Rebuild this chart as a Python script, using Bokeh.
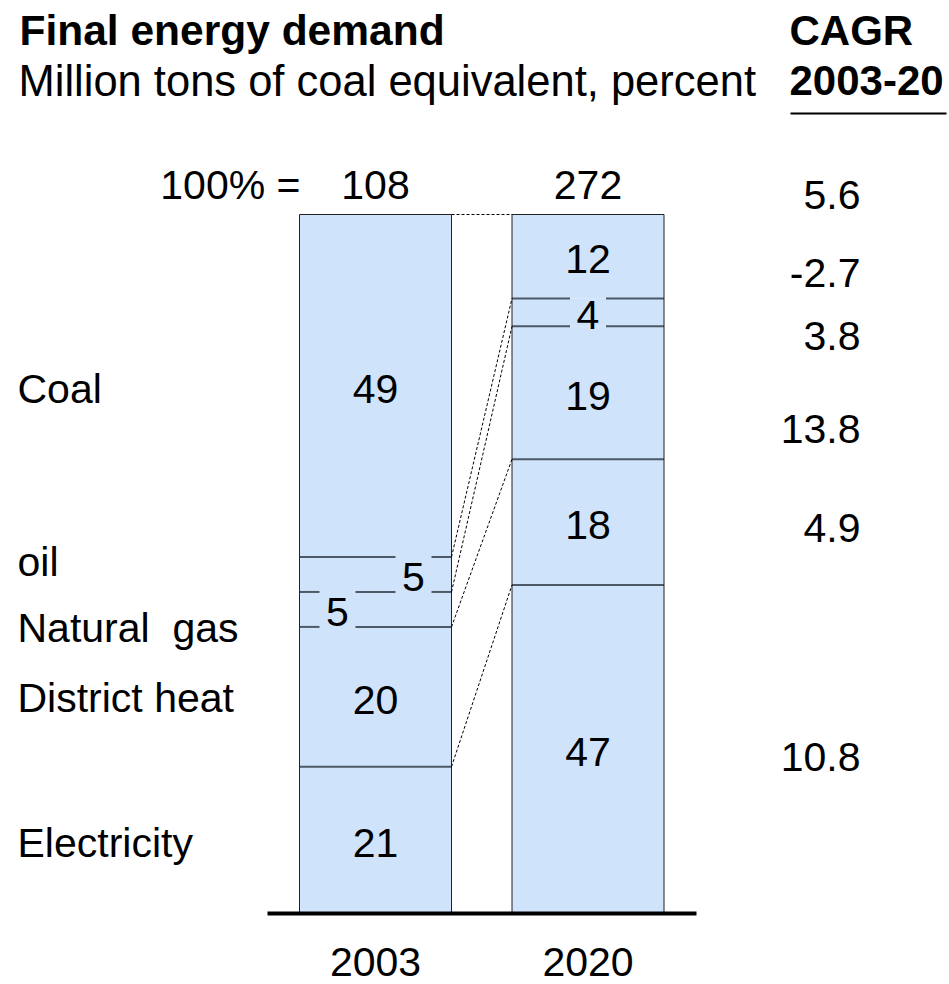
from bokeh.plotting import figure
from bokeh.models import Range1d
from bokeh.embed import file_html
from bokeh.resources import INLINE
from bokeh.core.properties import value

# ---- data -------------------------------------------------------------
categories = ["Electricity", "District heat", "Natural\u00a0 gas", "oil", "Coal"]  # bottom -> top
years = ["2003", "2020"]
share_2003 = [21, 20, 5, 5, 49]
share_2020 = [47, 18, 19, 4, 12]
totals = [108, 272]
cagr_total = 5.6
cagr = [10.8, 4.9, 13.8, 3.8, -2.7]  # same order as categories

# ---- layout -----------------------------------------------------------
W, H = 949, 984
BASE_PX, TOP_PX = 913, 214          # screen rows of 0 % and 100 %
SCALE = (BASE_PX - TOP_PX) / 100.0  # pixels per percent


def ydata(px):
    """Screen row -> percent units of the y range."""
    return (BASE_PX - px) / SCALE


FONT = value("Liberation Sans")
FS = "41px"
FILL = "#cfe3fa"
SEP = "#4d5966"
bar_x = [375, 587.5]
bar_w = 152
label_dx = {(0, 3): 38, (0, 2): -38, (1, 3): 0}  # offsets of labels in thin segments
GAP = 18

p = figure(width=W, height=H, output_backend="svg", toolbar_location=None,
           x_range=Range1d(0, W), y_range=Range1d(ydata(H), ydata(0)),
           x_axis_location=None, y_axis_location=None, min_border=0)
p.outline_line_color = None
p.xgrid.visible = False
p.ygrid.visible = False
p.background_fill_color = "white"
p.border_fill_color = "white"

shares = [share_2003, share_2020]
cums = []
for b, s in enumerate(shares):
    bottoms, tops, acc = [], [], 0
    for v in s:
        bottoms.append(acc)
        acc += v
        tops.append(acc)
    cums.append((bottoms, tops))
    cx = bar_x[b]
    left, right = cx - bar_w / 2, cx + bar_w / 2
    p.quad(left=[left] * len(s), right=[right] * len(s), bottom=bottoms, top=tops,
           fill_color=FILL, line_color=None)

    # separators between segments, broken around labels of thin segments
    for i in range(1, len(s)):
        gaps = []
        for j in (i - 1, i):
            if (b, j) in label_dx:
                gx = cx + label_dx[(b, j)]
                gaps.append((gx - GAP, gx + GAP))
        gaps.sort()
        pieces, start = [], left
        for g0, g1 in gaps:
            if g0 > start:
                pieces.append((start, g0))
            start = max(start, g1)
        pieces.append((start, right))
        p.segment(x0=[a for a, _ in pieces], x1=[c for _, c in pieces],
                  y0=[bottoms[i]] * len(pieces), y1=[bottoms[i]] * len(pieces),
                  line_color=SEP, line_width=2)

    # bar outline
    p.line(x=[left, left, right, right], y=[0, acc, acc, 0], line_color="#222222", line_width=1)

    # segment values
    lx = [cx + label_dx.get((b, j), 0) for j in range(len(s))]
    ly = [(bottoms[j] + tops[j]) / 2 for j in range(len(s))]
    p.text(x=lx, y=ly, text=[str(v) for v in s], text_font=FONT, text_font_size=FS,
           text_align="center", text_baseline="middle", text_color="black", y_offset=3)

# dashed connectors between matching boundaries
b03 = cums[0][1]
b20 = cums[1][1]
x_l = bar_x[0] + bar_w / 2
x_r = bar_x[1] - bar_w / 2
p.segment(x0=[x_l] * len(b03), x1=[x_r] * len(b20), y0=b03, y1=b20,
          line_color="black", line_width=1, line_dash="3 2")

# base line
p.segment(x0=[267], x1=[696], y0=[0], y1=[0], line_color="black", line_width=4)

# category labels
cat_centers = [(a + c) / 2 for a, c in zip(*cums[0])]
cat_dy = [3, 1, 19, -12, 3]
for name, yc, dy in zip(categories, cat_centers, cat_dy):
    p.text(x=[17], y=[yc], text=[name], text_font=FONT, text_font_size=FS,
           text_align="left", text_baseline="middle", text_color="black", y_offset=dy)

# totals row
p.text(x=[300], y=[ydata(184)], text=["100% ="], text_font=FONT, text_font_size=FS,
       text_align="right", text_baseline="middle", text_color="black")
p.text(x=bar_x, y=[ydata(184)] * 2, text=[str(t) for t in totals], text_font=FONT,
       text_font_size=FS, text_align="center", text_baseline="middle", text_color="black")

# years
p.text(x=bar_x, y=[ydata(961)] * 2, text=years, text_font=FONT, text_font_size=FS,
       text_align="center", text_baseline="middle", text_color="black")

# CAGR column
cagr_rows = [756, 527, 428, 335, 272]
p.text(x=[860], y=[ydata(194)], text=[f"{cagr_total:.1f}"], text_font=FONT,
       text_font_size=FS, text_align="right", text_baseline="middle", text_color="black")
p.text(x=[860] * len(cagr), y=[ydata(r) for r in cagr_rows], text=[f"{c:.1f}" for c in cagr],
       text_font=FONT, text_font_size=FS, text_align="right", text_baseline="middle",
       text_color="black")

# headings
p.text(x=[19], y=[ydata(30)], text=["Final energy demand"], text_font=FONT,
       text_font_size="42.5px", text_font_style="bold", text_align="left",
       text_baseline="middle", text_color="black")
p.text(x=[18], y=[ydata(80)], text=["Million tons of coal equivalent, percent"], text_font=FONT,
       text_font_size="43.5px", text_align="left", text_baseline="middle", text_color="black")
p.text(x=[789], y=[ydata(30)], text=["CAGR"], text_font=FONT, text_font_size="42px",
       text_font_style="bold", text_align="left", text_baseline="middle", text_color="black")
p.text(x=[789], y=[ydata(80)], text=["2003-20"], text_font=FONT, text_font_size="42px",
       text_font_style="bold", text_align="left", text_baseline="middle", text_color="black")
p.segment(x0=[790], x1=[946], y0=[ydata(113)], y1=[ydata(113)], line_color="black", line_width=2)

open("out.html", "w").write(file_html(p, INLINE))
